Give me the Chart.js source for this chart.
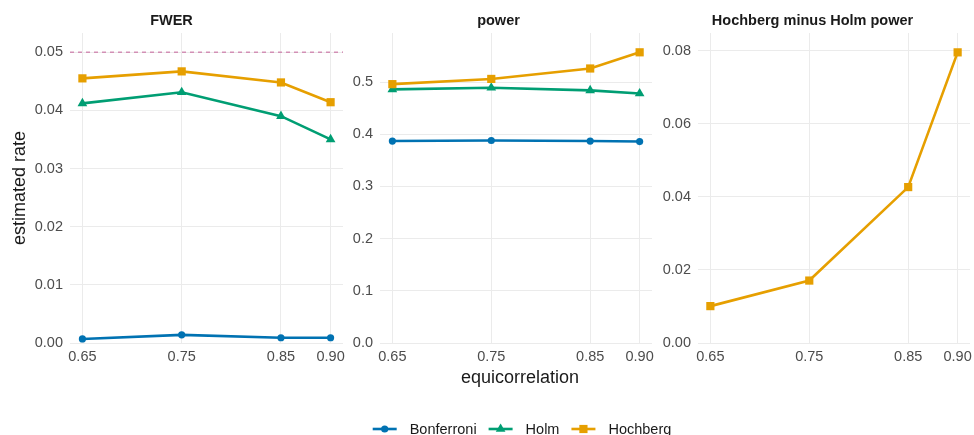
<!DOCTYPE html>
<html><head><meta charset="utf-8">
<script src="https://cdn.jsdelivr.net/npm/chart.js@4"></script>
<style>
html,body{margin:0;padding:0;background:#fff;width:974px;height:435px;overflow:hidden;position:relative}
canvas{position:absolute;top:0}
</style></head><body>
<canvas id="p1" width="346" height="365" style="left:0;width:346px;height:365px"></canvas>
<canvas id="p2" width="355" height="435" style="left:345px;width:355px;height:435px"></canvas>
<canvas id="p3" width="319" height="365" style="left:655px;width:319px;height:365px"></canvas>
<script>
// ---- data ----
const equicorrelation = [0.65, 0.75, 0.85, 0.90];
const xTickValues = [0.65, 0.75, 0.85, 0.90];
const methods = ["Bonferroni", "Holm", "Hochberg"];

const fwerBonferroni = [0.0007, 0.0014, 0.0009, 0.0009];
const fwerHolm       = [0.0412, 0.0431, 0.0390, 0.0350];
const fwerHochberg   = [0.0455, 0.0467, 0.0448, 0.0414];
const fwerTarget = 0.05;

const powerBonferroni = [0.387, 0.388, 0.387, 0.386];
const powerHolm       = [0.486, 0.489, 0.484, 0.478];
const powerHochberg   = [0.496, 0.506, 0.526, 0.557];

const hochbergMinusHolm = [0.0101, 0.0171, 0.0427, 0.0796];

const fwerTicks  = [0, 0.01, 0.02, 0.03, 0.04, 0.05];
const powerTicks = [0, 0.1, 0.2, 0.3, 0.4, 0.5];
const diffTicks  = [0, 0.02, 0.04, 0.06, 0.08];

const panelTitles = ["FWER", "power", "Hochberg minus Holm power"];
const yAxisTitle = "estimated rate";
const xAxisTitle = "equicorrelation";

// ---- styles ----
const FONT = '"Liberation Sans", Arial, Helvetica, sans-serif';
const colors = { Bonferroni: "#0072B2", Holm: "#009E73", Hochberg: "#E69F00" };
const shapes = { Bonferroni: "circle", Holm: "triangle", Hochberg: "rect" };
const radii  = { Bonferroni: 3.6, Holm: 5.6, Hochberg: 5.8 };
const drawOrder = { Bonferroni: 2, Holm: 1, Hochberg: 0 };

function series(name, values) {
  return {
    label: name,
    data: equicorrelation.map((x, i) => ({ x: x, y: values[i] })),
    borderColor: colors[name],
    backgroundColor: colors[name],
    pointBackgroundColor: colors[name],
    pointBorderColor: colors[name],
    pointBorderWidth: 0,
    pointStyle: shapes[name],
    pointRadius: radii[name],
    pointHoverRadius: radii[name],
    borderWidth: 2.6,
    tension: 0,
    order: drawOrder[name],
    clip: false
  };
}

function panel(id, cfg) {
  const yScale = {
    type: "linear",
    min: 0, max: cfg.yMax,
    afterBuildTicks: s => { s.ticks = cfg.yTicks.map(v => ({ value: v })); },
    afterFit: s => { s.width = cfg.yWidth; s.paddingTop = 0; s.paddingBottom = 0; },
    ticks: { callback: v => Number(v).toFixed(cfg.dec), font: { family: FONT, size: 14.5 }, color: "#4D4D4D", padding: 7 },
    grid: { color: "#EBEBEB", lineWidth: 1, drawTicks: false },
    border: { display: false }
  };
  if (cfg.yTitle) {
    yScale.title = { display: true, text: cfg.yTitle, font: { family: FONT, size: 18 }, color: "#1A1A1A", padding: { top: 9, bottom: 0 } };
  }
  return new Chart(document.getElementById(id), {
    type: "line",
    data: { datasets: cfg.datasets },
    options: {
      responsive: false,
      animation: false,
      devicePixelRatio: 1,
      layout: { autoPadding: false, padding: { left: 0, right: cfg.padRight, top: 0, bottom: cfg.padBottom } },
      plugins: {
        legend: { display: false },
        tooltip: { enabled: false },
        title: { display: true, text: cfg.title, font: { family: FONT, size: 14.5, weight: "bold" }, color: "#1A1A1A", padding: { top: 12, bottom: 3.6 } }
      },
      scales: {
        x: {
          type: "linear", min: 0.6375, max: 0.9125,
          afterBuildTicks: s => { s.ticks = xTickValues.map(v => ({ value: v })); },
          afterFit: s => { s.height = 22; s.paddingLeft = 0; s.paddingRight = 0; },
          ticks: { callback: v => Number(v).toFixed(2), font: { family: FONT, size: 14.5 }, color: "#4D4D4D", padding: 5, maxRotation: 0, autoSkip: false },
          grid: { color: "#EBEBEB", lineWidth: 1, drawTicks: false },
          border: { display: false }
        },
        y: yScale
      }
    },
    plugins: cfg.plugins || []
  });
}

const refLine = {
  id: "refLine",
  beforeDatasetsDraw(chart) {
    const { ctx, chartArea, scales } = chart;
    const y = scales.y.getPixelForValue(fwerTarget);
    ctx.save();
    ctx.strokeStyle = "#CC79A7";
    ctx.lineWidth = 1.2;
    ctx.setLineDash([4, 4]);
    ctx.beginPath();
    ctx.moveTo(chartArea.left, y);
    ctx.lineTo(chartArea.right, y);
    ctx.stroke();
    ctx.restore();
  }
};

const CANVAS2_LEFT = 345;
const sharedLabels = {
  id: "sharedLabels",
  afterDraw(chart) {
    const ctx = chart.ctx;
    ctx.save();
    // shared x-axis title
    ctx.font = "18px " + FONT;
    ctx.fillStyle = "#1A1A1A";
    ctx.textAlign = "center";
    ctx.textBaseline = "middle";
    ctx.fillText(xAxisTitle, 520 - CANVAS2_LEFT, 378);
    // legend
    ctx.font = "14.5px " + FONT;
    const lineLen = 24, gapText = 13, gapItem = 12;
    const widths = methods.map(m => ctx.measureText(m).width);
    const total = widths.reduce((a, b) => a + b, 0) + methods.length * (lineLen + gapText) + (methods.length - 1) * gapItem;
    let x = 522 - CANVAS2_LEFT - total / 2;
    const yMid = 429;
    methods.forEach((m, i) => {
      ctx.strokeStyle = colors[m];
      ctx.lineWidth = 2.6;
      ctx.setLineDash([]);
      ctx.beginPath();
      ctx.moveTo(x, yMid);
      ctx.lineTo(x + lineLen, yMid);
      ctx.stroke();
      ctx.fillStyle = colors[m];
      Chart.helpers.drawPoint(ctx, { pointStyle: shapes[m], radius: radii[m], borderWidth: 0, rotation: 0 }, x + lineLen / 2, yMid);
      ctx.fillStyle = "#1A1A1A";
      ctx.textAlign = "left";
      ctx.textBaseline = "alphabetic";
      ctx.fillText(m, x + lineLen + gapText, 434);
      x += lineLen + gapText + widths[i] + gapItem;
    });
    ctx.restore();
  }
};

panel("p1", {
  datasets: [series("Bonferroni", fwerBonferroni), series("Holm", fwerHolm), series("Hochberg", fwerHochberg)],
  yMax: 0.0533, yTicks: fwerTicks, dec: 2, yWidth: 70, padRight: 3, padBottom: 0,
  title: panelTitles[0], yTitle: yAxisTitle, plugins: [refLine]
});
panel("p2", {
  datasets: [series("Bonferroni", powerBonferroni), series("Holm", powerHolm), series("Hochberg", powerHochberg)],
  yMax: 0.594, yTicks: powerTicks, dec: 1, yWidth: 35, padRight: 48, padBottom: 70,
  title: panelTitles[1], plugins: [sharedLabels]
});
panel("p3", {
  datasets: [series("Hochberg", hochbergMinusHolm)],
  yMax: 0.0849, yTicks: diffTicks, dec: 2, yWidth: 43, padRight: 4, padBottom: 0,
  title: panelTitles[2]
});
</script>
</body></html>
